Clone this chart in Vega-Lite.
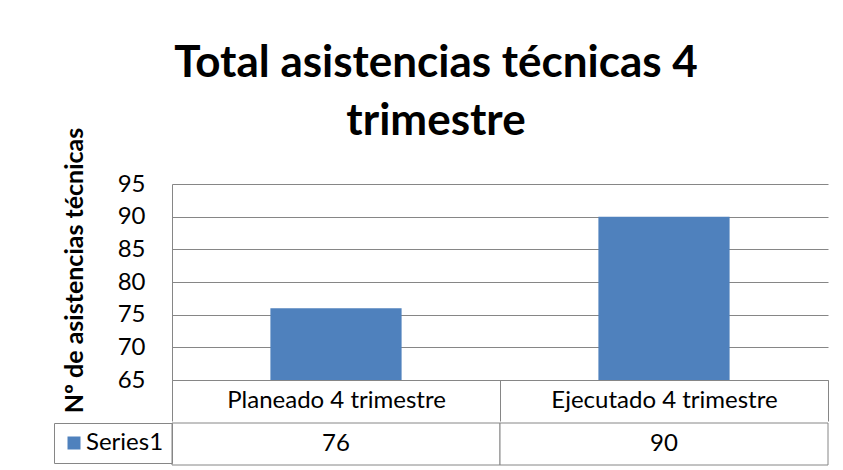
{
  "$schema": "https://vega.github.io/schema/vega-lite/v6.json",
  "background": "white",
  "padding": {"left": 53, "top": 42, "right": 10, "bottom": 5},
  "title": {
    "text": ["Total asistencias técnicas 4", "trimestre"],
    "font": "Lato",
    "fontSize": 44,
    "fontWeight": "bold",
    "color": "black",
    "lineHeight": 58,
    "anchor": "middle",
    "frame": "bounds",
    "offset": -17,
    "dx": -5
  },
  "config": {"font": "Lato", "view": {"stroke": null}},
  "spacing": 0,
  "resolve": {"scale": {"color": "independent"}, "legend": {"color": "independent"}},
  "vconcat": [
    {
      "width": 656,
      "height": 196,
      "data": {"values": [
        {"categoria": "Planeado 4 trimestre", "valor": 76, "serie": "Series1"},
        {"categoria": "Ejecutado 4 trimestre", "valor": 90, "serie": "Series1"}
      ]},
      "mark": {"type": "bar", "color": "#4F81BD", "width": {"band": 0.4}},
      "encoding": {
        "x": {
          "field": "categoria",
          "type": "nominal",
          "sort": null,
          "scale": {"paddingInner": 0, "paddingOuter": 0},
          "axis": {
            "title": null,
            "labelAngle": 0,
            "labelFontSize": 24,
            "labelColor": "black",
            "labelBaseline": "middle",
            "labelPadding": -21,
            "labelLimit": 400,
            "ticks": true,
            "tickBand": "extent",
            "tickSize": 41,
            "tickColor": "#868686",
            "tickWidth": 1,
            "domainColor": "#868686",
            "minExtent": 41,
            "maxExtent": 41
          }
        },
        "y": {
          "field": "valor",
          "type": "quantitative",
          "scale": {"domain": [65, 95], "nice": false, "zero": false},
          "axis": {
            "values": [65, 70, 75, 80, 85, 90, 95],
            "title": "Nº de asistencias técnicas",
            "titleFont": "Lato",
            "titleFontSize": 25,
            "titleFontWeight": "bold",
            "titleColor": "black",
            "titleY": 86,
            "titlePadding": 30,
            "labelFontSize": 24,
            "labelColor": "black",
            "labelPadding": 27,
            "ticks": false,
            "grid": true,
            "gridColor": "#868686",
            "domainColor": "#868686"
          }
        },
        "y2": {"datum": 65}
      }
    },
    {
      "width": 656,
      "height": 42,
      "data": {"values": [
        {"categoria": "Planeado 4 trimestre", "valor": 76, "serie": "Series1"},
        {"categoria": "Ejecutado 4 trimestre", "valor": 90, "serie": "Series1"}
      ]},
      "layer": [
        {
          "mark": {"type": "rect", "fill": "white", "stroke": "#868686"},
          "encoding": {
            "x": {"field": "categoria", "type": "nominal", "sort": null, "scale": {"paddingInner": 0, "paddingOuter": 0}, "axis": null}
          }
        },
        {
          "mark": {"type": "text", "fontSize": 24, "color": "black"},
          "encoding": {
            "x": {"field": "categoria", "type": "nominal", "sort": null, "axis": null},
            "text": {"field": "valor", "type": "quantitative"}
          }
        },
        {
          "mark": {"type": "square", "opacity": 0},
          "encoding": {
            "color": {
              "field": "serie",
              "type": "nominal",
              "scale": {"range": ["#4F81BD"]},
              "legend": {
                "orient": "left",
                "offset": 0,
                "title": null,
                "strokeColor": "#868686",
                "padding": 8,
                "symbolType": "square",
                "symbolSize": 169,
                "symbolStrokeWidth": 0,
                "symbolOpacity": 1,
                "labelFontSize": 24,
                "labelOffset": 0,
                "labelColor": "black"
              }
            }
          }
        }
      ]
    }
  ]
}
